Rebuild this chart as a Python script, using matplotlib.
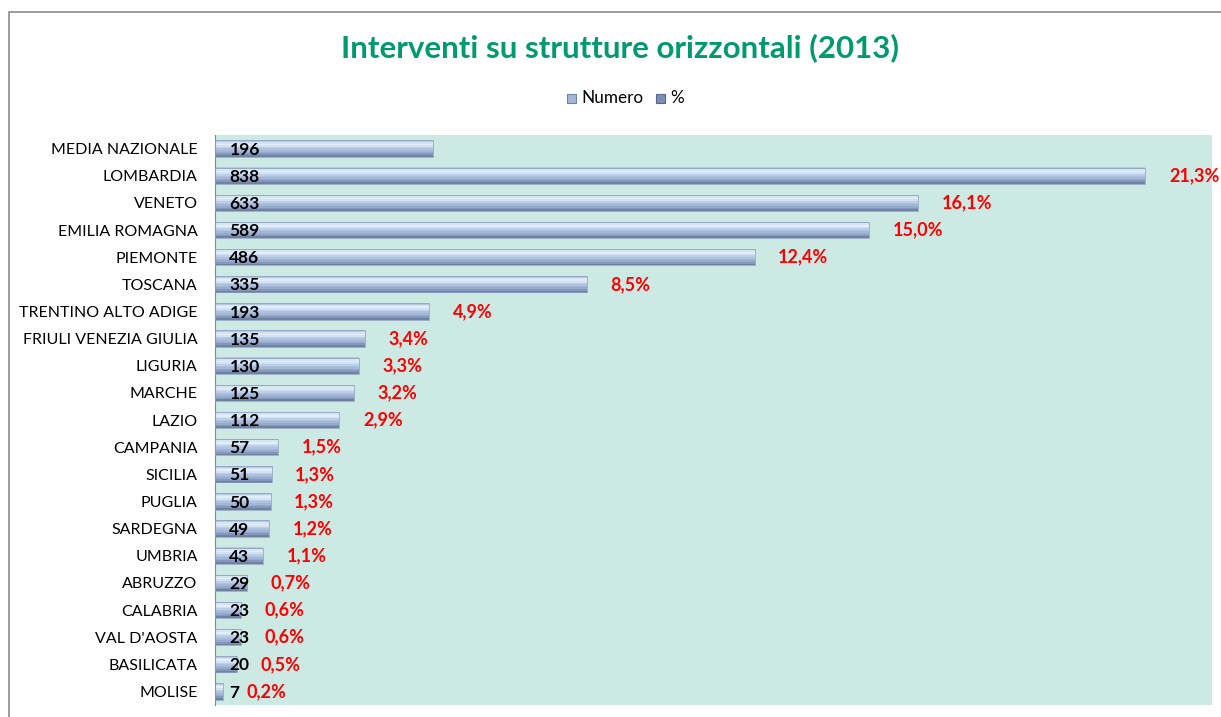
import numpy as np
import matplotlib.pyplot as plt
from matplotlib.patches import Rectangle

regioni = ["MEDIA NAZIONALE", "LOMBARDIA", "VENETO", "EMILIA ROMAGNA", "PIEMONTE",
           "TOSCANA", "TRENTINO ALTO ADIGE", "FRIULI VENEZIA GIULIA", "LIGURIA",
           "MARCHE", "LAZIO", "CAMPANIA", "SICILIA", "PUGLIA", "SARDEGNA", "UMBRIA",
           "ABRUZZO", "CALABRIA", "VAL D'AOSTA", "BASILICATA", "MOLISE"]
numero = [196, 838, 633, 589, 486, 335, 193, 135, 130, 125, 112, 57, 51, 50, 49, 43,
          29, 23, 23, 20, 7]
perc = [None, "21,3%", "16,1%", "15,0%", "12,4%", "8,5%", "4,9%", "3,4%", "3,3%",
        "3,2%", "2,9%", "1,5%", "1,3%", "1,3%", "1,2%", "1,1%", "0,7%", "0,6%",
        "0,6%", "0,5%", "0,2%"]

plt.rcParams['font.family'] = ['Lato', 'DejaVu Sans']

fig = plt.figure(figsize=(12.21, 7.17), dpi=100)
W, H = 1221, 717
ax = fig.add_axes([215 / W, 1 - 705 / H, (1212 - 215) / W, (705 - 135) / H])
ax.set_facecolor('#cceae3')

y = np.arange(len(regioni))
h = 0.6
# bevelled bar look: stack of thin bands from top to bottom
band_cols = ['#b4c8e4', '#d6e5f6', '#e3eefb', '#d2e1f3', '#bccfe8', '#aec2df',
             '#a3b7d6', '#96aacb', '#8597ba', '#6f82a4']
nb = len(band_cols)
for k, c in enumerate(band_cols):
    yc = y - h / 2 + (k + 0.5) * h / nb
    ax.barh(yc, numero, height=h / nb + 0.01, color=c, edgecolor='none', zorder=2)
ax.barh(y, numero, height=h, color='none', edgecolor='#8a9cbc', linewidth=0.5, zorder=3)

for yi, v, p in zip(y, numero, perc):
    ax.text(13, yi + 0.04, str(v), ha='left', va='center', fontsize=12.5, fontweight='bold',
            color='black', zorder=5)
    if p:
        ax.annotate(p, (v, yi), xytext=(17, 0), textcoords='offset points',
                    ha='left', va='center', fontsize=13, fontweight='bold',
                    color='#ff0000', zorder=5)

ax.set_xlim(0, 898)
ax.set_ylim(len(regioni) - 0.5, -0.5)
ax.set_xticks([])
ax.set_yticks(y)
ax.set_yticklabels(regioni, fontsize=11.5)
ax.tick_params(axis='y', length=0, pad=12.5)
for s in ['top', 'right', 'bottom']:
    ax.spines[s].set_visible(False)
ax.spines['left'].set_color('#888888')

fig.text(620 / W, 1 - 48 / H, "Interventi su strutture orizzontali (2013)", ha='center',
         va='center', fontsize=22.5, fontweight='bold', color='#009a70')

# legend
fig.patches.append(Rectangle((567 / W, 1 - 103 / H), 9 / W, 9 / H, transform=fig.transFigure,
                             facecolor='#a3b8d8', edgecolor='#6f83a6', linewidth=0.8))
fig.text(581 / W, 1 - 98 / H, "Numero", ha='left', va='center', fontsize=12.3)
fig.patches.append(Rectangle((656 / W, 1 - 103 / H), 9 / W, 9 / H, transform=fig.transFigure,
                             facecolor='#7a8fb4', edgecolor='#56688c', linewidth=0.8))
fig.text(670 / W, 1 - 98 / H, "%", ha='left', va='center', fontsize=12.3)

# chart frame
fig.patches.append(Rectangle((9 / W, -0.1), 1.2, 1 - 12 / H + 0.1, transform=fig.transFigure,
                             facecolor='none', edgecolor='#8c8c8c', linewidth=1.2))

fig.savefig("out.png", dpi=100)
